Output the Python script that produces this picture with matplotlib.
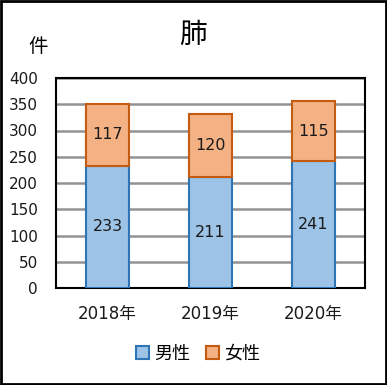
import matplotlib
matplotlib.use("Agg")
import matplotlib.pyplot as plt
from matplotlib.patches import Rectangle

plt.rcParams['font.family'] = ['DejaVu Sans', 'Noto Sans CJK JP']

categories = ["2018年", "2019年", "2020年"]
male = [233, 211, 241]
female = [117, 120, 115]
yticks = [0, 50, 100, 150, 200, 250, 300, 350, 400]

fig = plt.figure(figsize=(3.87, 3.85), dpi=100)
ax = fig.add_axes([56/387, 1-288/385, (365-56)/387, (288-78)/385])

x = range(len(categories))
w = 0.41
b1 = ax.bar(x, male, w, color="#9DC3E6", edgecolor="#2E75B6", linewidth=1.5, label="男性", zorder=3)
b2 = ax.bar(x, female, w, bottom=male, color="#F4B183", edgecolor="#C55A11", linewidth=1.5, label="女性", zorder=3)
for i in x:
    ax.text(i, male[i]/2, str(male[i]), ha="center", va="center", fontsize=11.5, color="#1a1a1a", zorder=4)
    ax.text(i, male[i] + female[i]/2, str(female[i]), ha="center", va="center", fontsize=11.5, color="#1a1a1a", zorder=4)

ax.set_ylim(0, 400)
ax.set_xlim(-0.5, 2.5)
ax.set_yticks(yticks)
ax.set_xticks(list(x))
ax.set_xticklabels(categories)
ax.tick_params(axis='both', length=0, labelsize=11, colors="#1a1a1a")
ax.tick_params(axis='x', labelsize=12)
ax.tick_params(axis='y', pad=13)
ax.tick_params(axis='x', pad=12)
ax.yaxis.grid(True, color="#939393", linewidth=1.8, zorder=0)
for s in ax.spines.values():
    s.set_color("black")
    s.set_linewidth(1.5)

fig.text(193.5/387, 1-35/385, "肺", ha="center", va="center", fontsize=20, family=['Noto Sans CJK JP'])
fig.text(38/387, 1-47/385, "件", ha="center", va="center", fontsize=14, family=['Noto Sans CJK JP'])

fig.legend(handles=[b1, b2], loc="center", bbox_to_anchor=(0.512, 1-354/385), ncol=2, frameon=False,
           fontsize=13, handlelength=0.7, handleheight=0.7, handletextpad=0.3, columnspacing=0.9)

fig.patches.append(Rectangle((0.003, 0.003), 0.994, 0.994, transform=fig.transFigure, fill=False,
                             edgecolor="black", linewidth=2))

fig.savefig("out.png", dpi=100)
